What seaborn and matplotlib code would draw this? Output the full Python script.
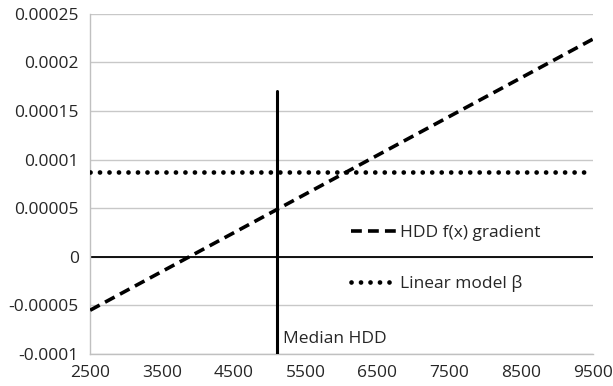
import numpy as np
import pandas as pd
import matplotlib.pyplot as plt
import seaborn as sns

# data
hdd = [2500, 9500]
gradient = [-0.000055, 0.000224]
beta_x = [2500, 9500]
beta = [0.0000874, 0.0000874]
median_hdd = 5100
median_top = 0.000171

xticks = [2500, 3500, 4500, 5500, 6500, 7500, 8500, 9500]
yticks = [-0.0001, -0.00005, 0, 0.00005, 0.0001, 0.00015, 0.0002, 0.00025]
ytick_labels = ["-0.0001", "-0.00005", "0", "0.00005", "0.0001", "0.00015", "0.0002", "0.00025"]

sns.set_style("white")
plt.rcParams['font.family'] = ['Open Sans', 'DejaVu Sans']

fig = plt.figure(figsize=(6.13, 3.86), dpi=100)
ax = fig.add_axes([0.147, 0.083, 0.82, 0.881])

df_grad = pd.DataFrame({"HDD": hdd, "val": gradient})
df_beta = pd.DataFrame({"HDD": beta_x, "val": beta})

ax.axhline(0, color="black", lw=1.3, zorder=2)
sns.lineplot(data=df_grad, x="HDD", y="val", ax=ax, color="black", lw=2.6,
             linestyle=(0, (3, 1.7)), label="HDD f(x) gradient", zorder=3)
sns.lineplot(data=df_beta, x="HDD", y="val", ax=ax, color="black", lw=3.4,
             linestyle=(0, (0.01, 2.0)), dash_capstyle="round",
             label="Linear model \u03b2", zorder=3)
ax.plot([median_hdd, median_hdd], [yticks[0], median_top], color="black", lw=2.2, zorder=3)
ax.text(median_hdd + 90, -0.000085, "Median HDD", fontsize=12.5, va="center", ha="left")

ax.set_xlim(2500, 9500)
ax.set_ylim(-0.0001, 0.00025)
ax.set_xticks(xticks)
ax.set_xticklabels([str(x) for x in xticks], fontsize=12.5)
ax.set_yticks(yticks)
ax.set_yticklabels(ytick_labels, fontsize=12.5)
ax.set_xlabel("")
ax.set_ylabel("")

ax.grid(axis="y", color="#c8c8c8", lw=1)
ax.set_axisbelow(True)
for s in ["top", "right"]:
    ax.spines[s].set_visible(False)
for s in ["left", "bottom"]:
    ax.spines[s].set_color("#c0c0c0")
    ax.spines[s].set_linewidth(1)
ax.tick_params(axis="both", length=5, color="#c0c0c0", width=1, pad=3)

leg = ax.legend(loc="center left", bbox_to_anchor=(0.52, 0.28), frameon=False, fontsize=12.5,
                handlelength=2.6, handletextpad=0.2, labelspacing=1.95, borderpad=0,
                borderaxespad=0)

fig.savefig("out.png", dpi=100)
